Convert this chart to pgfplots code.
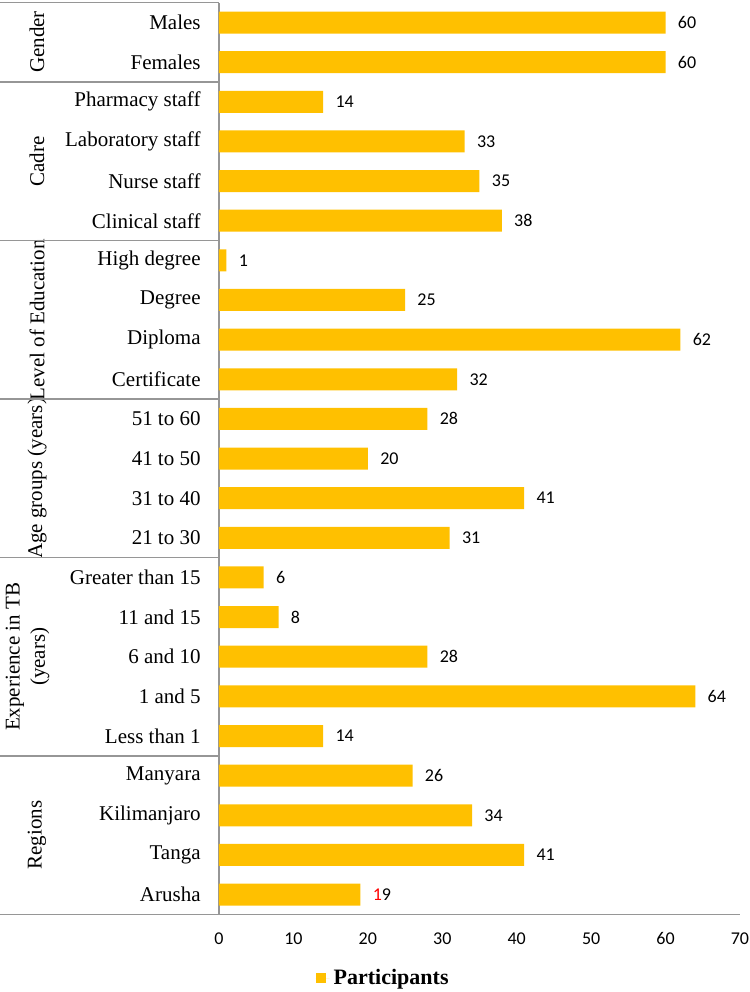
\documentclass[border=0pt]{standalone}
\usepackage{fontspec}
\setmainfont{Liberation Serif}
\newfontfamily\calibri{Carlito}
\usepackage{xcolor}
\usepackage{pgfplots}
\pgfplotsset{compat=1.18}
\definecolor{bargold}{RGB}{255,192,0}
\definecolor{axgray}{RGB}{150,150,150}
\begin{document}
\begin{tikzpicture}
\path[use as bounding box] (0,0) rectangle (375pt,496pt);
\begin{axis}[
  at={(109.5pt,38.8pt)}, anchor=south west,
  scale only axis, width=260.5pt, height=455.85pt,
  xbar, bar width=11pt,
  xmin=0, xmax=70, ymin=-0.5, ymax=22.5,
  xtick={0,10,...,70}, ytick={0,...,22},
  yticklabels={Arusha,Tanga,Kilimanjaro,Manyara,Less than 1,1 and 5,6 and 10,11 and 15,Greater than 15,21 to 30,31 to 40,41 to 50,51 to 60,Certificate,Diploma,Degree,High degree,Clinical staff,Nurse staff,Laboratory staff,Pharmacy staff,Females,Males},
  axis x line*=bottom, axis y line*=left,
  axis line style={axgray, line width=0.8pt, -},
  major tick length=0pt,
  /pgf/number format/assume math mode=true,
  xticklabel style={font=\calibri\fontsize{9}{10}\selectfont, anchor=center, yshift=-12pt, inner sep=0pt},
  yticklabel style={font=\fontsize{10.5}{12.6}\selectfont, anchor=east, inner sep=0pt, xshift=-9pt},
  point meta=explicit symbolic,
  nodes near coords,
  every node near coord/.append style={font=\calibri\fontsize{9}{10}\selectfont, anchor=west, inner sep=0pt, xshift=6pt},
  legend style={at={(0.317,-0.0700)}, anchor=center, draw=none, fill=none, inner sep=0pt, font=\bfseries\fontsize{11}{13}\selectfont},
  legend image code/.code={\fill[bargold] (0pt,-2.5pt) rectangle (5pt,2.5pt); \path (0pt,0pt) -- (7pt,0pt);},
]
\addplot[fill=bargold, draw=none] coordinates {
(60,22) [60]
(60,21) [60]
(14,20) [14]
(33,19) [33]
(35,18) [35]
(38,17) [38]
(1,16) [1]
(25,15) [25]
(62,14) [62]
(32,13) [32]
(28,12) [28]
(20,11) [20]
(41,10) [41]
(31,9) [31]
(6,8) [6]
(8,7) [8]
(28,6) [28]
(64,5) [64]
(14,4) [14]
(26,3) [26]
(34,2) [34]
(41,1) [41]
(19,0) [\textcolor{red}{1}9]
};
\addlegendentry{Participants}
\end{axis}
\begin{scope}[font=\fontsize{10.5}{12.6}\selectfont]
\node[rotate=90] at (18.5pt,475pt) {Gender};
\node[rotate=90] at (18.5pt,415.3pt) {Cadre};
\node[rotate=90] at (18.5pt,336pt) {Level of Education};
\node[rotate=90] at (18.5pt,256.8pt) {Age groups (years)};
\node[rotate=90, align=center] at (13.75pt,167.6pt) {Experience in TB\\(years)};
\node[rotate=90] at (18.5pt,78.4pt) {Regions};
\end{scope}
\begin{scope}[axgray, line width=0.8pt]
\draw (0,494.65pt) -- (109.5pt,494.65pt);
\draw (0,455.0pt) -- (109.5pt,455.0pt);
\draw (0,375.7pt) -- (109.5pt,375.7pt);
\draw (0,296.4pt) -- (109.5pt,296.4pt);
\draw (0,217.2pt) -- (109.5pt,217.2pt);
\draw (0,118.1pt) -- (109.5pt,118.1pt);
\draw (0,38.8pt) -- (109.5pt,38.8pt);
\end{scope}
\end{tikzpicture}
\end{document}
